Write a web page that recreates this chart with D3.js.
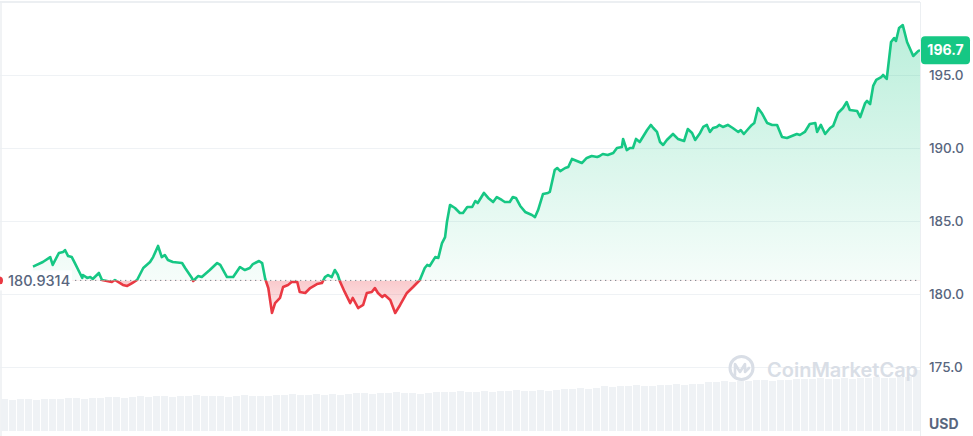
<!DOCTYPE html>
<html><head><meta charset="utf-8">
<script src="https://cdn.jsdelivr.net/npm/d3@7"></script>
<style>html,body{margin:0;padding:0;background:#fff;}svg{display:block;font-family:Inter,"Noto Sans",sans-serif;}</style>
</head><body><svg id="c" width="973" height="436"></svg>
<script>
const minutes = [0,16,28,32,42,49,52,57,63,68,76,80,81,88,93,97,107,112,120,128,133,146,153,161,169,179,190,195,203,209,214,219,227,242,247,258,260,268,274,287,299,304,315,325,336,344,352,357,367,372,377,382,388,393,401,406,414,420,429,433,442,450,461,469,474,479,485,490,495,498,506,515,519,528,536,542,550,555,560,567,571,580,588,596,607,617,628,636,640,644,653,658,664,669,672,677,685,693,698,705,713,718,722,732,739,747,753,761,766,774,779,784,791,799,810,815,820,828,836,839,847,851,856,864,869,875,883,891,899,907,916,920,925,933,942,948,956,958,964,969,974,979,985,994,997,1003,1007,1013,1018,1023,1029,1039,1047,1057,1063,1070,1075,1083,1088,1094,1099,1104,1110,1114,1120,1128,1136,1145,1149,1154,1161,1167,1171,1177,1183,1192,1200,1208,1216,1224,1232,1240,1245,1253,1261,1270,1273,1279,1286,1294,1299,1307,1315,1321,1326,1338,1343,1351,1354,1359,1364,1369,1377,1380,1386,1393,1398,1401,1406,1412,1419,1429,1437,1440];
const prices = [181.87,182.19,182.53,181.99,182.81,182.88,183.01,182.60,182.53,182.12,181.44,181.10,181.30,181.10,181.16,181.03,181.44,180.96,180.89,180.82,180.96,180.62,180.55,180.75,180.96,181.78,182.19,182.53,183.29,182.53,182.67,182.33,182.19,182.12,181.78,181.10,180.89,181.23,181.16,181.64,182.12,181.99,181.16,181.16,181.85,181.64,181.78,182.05,182.26,182.12,181.03,180.41,178.70,179.38,179.73,180.48,180.62,180.82,180.82,180.14,180.07,180.41,180.68,180.75,181.16,181.30,181.16,181.64,181.30,180.89,180.14,179.38,179.73,179.04,179.25,180.07,180.14,180.41,180.07,179.79,179.93,179.59,178.70,179.25,180.07,180.48,180.96,181.78,181.99,181.92,182.53,182.47,183.49,183.90,184.93,186.10,185.89,185.55,185.55,185.96,185.96,186.37,186.23,186.92,186.58,186.30,186.64,186.44,186.30,186.30,186.64,186.58,186.03,185.62,185.41,185.27,185.75,186.85,186.92,186.99,188.49,188.63,188.42,188.63,188.70,189.25,189.11,188.97,189.32,189.45,189.38,189.45,189.59,189.52,189.66,190.00,190.07,190.62,189.86,190.00,190.00,190.62,190.41,191.03,191.23,191.58,191.37,191.10,190.41,190.21,190.55,190.96,190.62,190.48,191.30,191.03,190.55,191.03,191.44,191.58,191.10,191.37,191.44,191.58,191.44,191.58,191.37,191.10,191.23,190.96,191.30,191.58,191.71,192.74,192.40,191.71,191.58,191.58,190.75,190.68,190.82,190.96,190.89,191.10,191.64,191.71,191.10,191.58,190.96,191.37,191.51,192.40,192.74,193.15,192.60,192.53,192.12,193.08,193.22,193.01,194.25,194.66,194.86,195.00,194.73,197.26,197.53,197.33,198.22,198.42,197.26,196.30,196.64,196.70];
const volumes = [32,31,32,32,31,32,32,32,33,33,32,33,33,34,34,33,34,35,34,35,35,34,35,35,36,35,35,35,34,35,36,35,35,35,36,36,37,36,36,37,36,37,36,37,38,38,37,38,38,39,38,38,37,38,39,39,39,40,39,39,40,39,40,40,41,40,40,41,40,41,42,42,43,42,43,45,44,45,45,46,45,45,46,46,47,46,47,47,49,49,50,49,50,50,51,51,50,51,51,52,52,52,53,52,52,53,52,53,53,54,53,53,54,54,61];
const yTicks = [175, 180, 185, 190, 195];
const basePrice = 180.9314;
const lastPrice = "196.7";
const currency = "USD";
const brand = "CoinMarketCap";

const W = 973, H = 436, plotR = 920, plotB = 431;
const svg = d3.select("#c");
const data = minutes.map((m, i) => ({m, p: prices[i]}));

const x = d3.scaleLinear().domain([0, 1440]).range([33, plotR]);
const y = d3.scaleLinear().domain([175, 195]).range([367, 75]);
const yBase = y(basePrice);

const defs = svg.append("defs");
const gG = defs.append("linearGradient").attr("id","gg").attr("gradientUnits","userSpaceOnUse")
  .attr("x1",0).attr("x2",0).attr("y1",20).attr("y2",yBase);
gG.append("stop").attr("offset",0).attr("stop-color","#16c784").attr("stop-opacity",0.3);
gG.append("stop").attr("offset",1).attr("stop-color","#16c784").attr("stop-opacity",0.04);
const gR = defs.append("linearGradient").attr("id","gr").attr("gradientUnits","userSpaceOnUse")
  .attr("x1",0).attr("x2",0).attr("y1",yBase).attr("y2",y(178.5));
gR.append("stop").attr("offset",0).attr("stop-color","#ea3943").attr("stop-opacity",0.27);
gR.append("stop").attr("offset",1).attr("stop-color","#ea3943").attr("stop-opacity",0.1);
defs.append("clipPath").attr("id","cu").append("rect").attr("x",0).attr("y",0).attr("width",plotR).attr("height",yBase);
defs.append("clipPath").attr("id","cd").append("rect").attr("x",0).attr("y",yBase).attr("width",plotR).attr("height",H-yBase);

// frame & grid
svg.append("g").selectAll("line").data(yTicks).join("line")
  .attr("x1",0).attr("x2",plotR).attr("y1",d=>y(d)+0.5).attr("y2",d=>y(d)+0.5)
  .attr("stroke","#eff2f5").attr("stroke-width",1);
svg.append("line").attr("x1",0).attr("x2",plotR).attr("y1",2).attr("y2",2).attr("stroke","#eceff2").attr("stroke-width",2);
svg.append("line").attr("x1",1).attr("x2",1).attr("y1",2).attr("y2",H).attr("stroke","#eceff2").attr("stroke-width",1.5);
svg.append("line").attr("x1",plotR+0.5).attr("x2",plotR+0.5).attr("y1",2).attr("y2",H).attr("stroke","#eceff2").attr("stroke-width",1);

// volume bars
const xv = d3.scaleBand().domain(d3.range(volumes.length)).range([1, plotR]).paddingInner(0.12);
const yv = d3.scaleLinear().domain([0, 100]).range([plotB, plotB - 100]);
svg.append("g").selectAll("rect").data(volumes).join("rect")
  .attr("x",(d,i)=>xv(i)).attr("width",xv.bandwidth())
  .attr("y",d=>yv(d)).attr("height",d=>plotB - yv(d))
  .attr("fill","#eff2f5");

// watermark
const wm = svg.append("g");
wm.append("circle").attr("cx",741.5).attr("cy",368).attr("r",11.5).attr("fill","none").attr("stroke","#d9dee6").attr("stroke-width",3);
wm.append("path").attr("d","M735,375 L735,364 L740,372 L745,364 L745,372 L749,368").attr("fill","none")
  .attr("stroke","#d9dee6").attr("stroke-width",2.6).attr("stroke-linecap","round").attr("stroke-linejoin","round");
wm.append("text").attr("x",767).attr("y",377).attr("font-size",20).attr("font-weight",600)
  .attr("fill","#d9dee6").text(brand);

// areas and lines
const area = d3.area().x(d=>x(d.m)).y0(yBase).y1(d=>y(d.p));
const line = d3.line().x(d=>x(d.m)).y(d=>y(d.p));
svg.append("path").datum(data).attr("d",area).attr("fill","url(#gg)").attr("clip-path","url(#cu)");
svg.append("path").datum(data).attr("d",area).attr("fill","url(#gr)").attr("clip-path","url(#cd)");

// baseline
svg.append("line").attr("x1",0).attr("x2",plotR).attr("y1",yBase).attr("y2",yBase)
  .attr("stroke","#7d838d").attr("stroke-width",1).attr("stroke-dasharray","1.3,3.7");

svg.append("path").datum(data).attr("d",line).attr("fill","none").attr("stroke","#16c784")
  .attr("stroke-width",2.6).attr("stroke-linejoin","round").attr("clip-path","url(#cu)");
svg.append("path").datum(data).attr("d",line).attr("fill","none").attr("stroke","#ea3943")
  .attr("stroke-width",2.6).attr("stroke-linejoin","round").attr("clip-path","url(#cd)");

// baseline label
svg.append("rect").attr("x",0).attr("y",yBase-10).attr("width",72).attr("height",20).attr("fill","#fff");
svg.append("circle").attr("cx",-1).attr("cy",yBase).attr("r",4).attr("fill","#ea3943");
svg.append("text").attr("x",8).attr("y",yBase).attr("dy","0.36em").attr("font-size",14.5).attr("font-weight",500)
  .attr("fill","#58667e").text(d3.format(".4f")(basePrice));

// y axis
const ax = svg.append("g").attr("transform",`translate(${plotR+3},0)`)
  .call(d3.axisRight(y).tickValues(yTicks).tickSize(0).tickPadding(6).tickFormat(d3.format(".1f")));
ax.select(".domain").remove();
ax.selectAll("text").attr("font-size",13.5).attr("font-weight",500).attr("fill","#58667e").attr("font-family","Inter,'Noto Sans',sans-serif");

// last price tag
const ly = y(+lastPrice);
svg.append("rect").attr("x",plotR+1).attr("y",ly-14).attr("width",49).attr("height",28).attr("rx",4).attr("fill","#16c784");
svg.append("text").attr("x",plotR+25.5).attr("y",ly).attr("dy","0.36em").attr("text-anchor","middle")
  .attr("font-size",14).attr("font-weight",700).attr("fill","#fff").text(lastPrice);

// currency
svg.append("text").attr("x",929).attr("y",424).attr("dy","0.35em").attr("font-size",14).attr("font-weight",700)
  .attr("fill","#58667e").text(currency);
</script></body></html>
